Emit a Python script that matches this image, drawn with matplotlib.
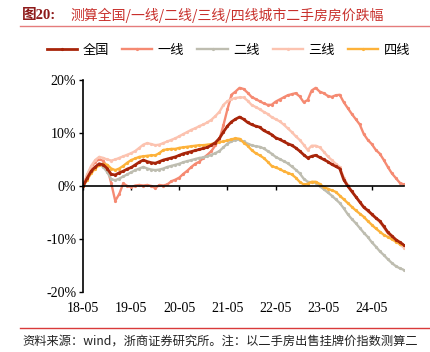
import matplotlib.pyplot as plt
import numpy as np
from matplotlib.transforms import blended_transform_factory

plt.rcParams['font.family'] = ['Noto Sans CJK SC', 'DejaVu Sans']

# monthly, 2018-05 .. 2025-01
months = np.arange(81)
tick_pos = [0, 12, 24, 36, 48, 60, 72]
tick_labels = ['18-05', '19-05', '20-05', '21-05', '22-05', '23-05', '24-05']

national = [0, 1.5, 2.8, 3.6, 4.2, 4.0, 3.3, 2.2, 2.1, 2.5, 2.8, 3.2, 3.5, 4.0, 4.5, 4.9,
            4.6, 4.4, 4.3, 4.6, 4.9, 5.1, 5.3, 5.5, 5.8, 6.1, 6.3, 6.5, 6.7, 6.9, 7.1, 7.3,
            7.7, 8.2, 9.0, 10.2, 11.3, 12.1, 12.6, 13.0, 12.6, 12.0, 11.6, 11.3, 11.1, 10.5,
            10.1, 9.7, 9.1, 8.8, 8.4, 8.0, 7.7, 7.2, 6.6, 5.9, 5.3, 5.6, 5.8, 5.4, 5.0, 4.6,
            4.1, 3.7, 3.3, 1.2, 0.0, -1.0, -2.0, -3.0, -4.0, -4.6, -5.3, -6.0, -6.6, -7.6,
            -8.7, -9.4, -10.1, -10.6, -11.1]
tier1 = [0, 2.0, 3.5, 4.6, 5.0, 4.8, 3.5, 0.5, -2.8, -1.5, 0.5, 0.0, -0.2, 0.1, 0.2, 0.1,
         0.2, 0.0, -0.4, 0.2, 0.1, 0.3, 0.9, 1.2, 1.6, 2.3, 2.9, 3.6, 4.2, 4.6, 5.3, 5.9,
         6.6, 7.7, 8.8, 11.5, 14.5, 17.2, 17.8, 18.5, 18.3, 17.6, 16.8, 16.4, 16.0, 15.6,
         15.3, 15.3, 15.9, 16.3, 16.7, 17.1, 17.3, 17.5, 16.9, 15.8, 16.2, 18.0, 18.5, 17.8,
         17.5, 17.0, 16.8, 17.1, 17.2, 15.8, 14.7, 13.6, 12.6, 11.6, 9.8, 8.7, 7.9, 6.8,
         6.1, 4.9, 3.6, 2.4, 1.5, 0.6, 0.3]
tier2 = [0, 1.3, 2.6, 3.5, 4.0, 3.6, 2.6, 1.3, 1.1, 1.4, 1.8, 2.2, 2.6, 3.0, 3.3, 3.6,
         3.3, 3.1, 3.0, 3.1, 3.3, 3.6, 3.8, 4.0, 4.2, 4.5, 4.7, 4.9, 5.1, 5.3, 5.4, 5.6,
         5.9, 6.2, 6.6, 7.3, 8.0, 8.4, 8.7, 8.7, 8.4, 8.0, 7.7, 7.5, 7.4, 7.1, 6.6, 6.1,
         5.5, 5.1, 4.7, 4.3, 3.7, 3.1, 2.4, 1.4, 0.8, 0.7, 0.6, 0.0, -0.6, -1.2, -1.8,
         -2.5, -3.2, -4.2, -5.3, -6.2, -7.0, -7.9, -8.8, -9.6, -10.6, -11.4, -12.3, -13.0,
         -13.8, -14.5, -15.1, -15.5, -15.8]
tier3 = [0, 2.2, 3.8, 4.9, 5.5, 5.3, 5.0, 4.8, 5.0, 5.3, 5.6, 5.9, 6.2, 6.6, 7.2, 7.8,
         8.1, 7.9, 7.7, 7.8, 8.1, 8.4, 8.7, 9.0, 9.4, 9.8, 10.2, 10.6, 10.9, 11.3, 11.6,
         12.0, 12.5, 13.2, 14.0, 15.3, 16.0, 16.4, 16.6, 16.7, 16.7, 16.1, 15.3, 14.9,
         14.5, 14.0, 13.6, 13.0, 12.6, 12.2, 11.6, 10.9, 10.2, 9.4, 8.7, 7.8, 6.8, 7.6,
         7.6, 7.3, 6.5, 5.6, 4.9, 4.2, 3.6, 1.6, 0.2, -1.0, -2.0, -3.0, -4.0, -4.7, -5.4,
         -6.1, -6.8, -7.8, -8.9, -9.7, -10.4, -11.0, -11.6]
tier4 = [0, 1.2, 2.4, 3.3, 3.9, 4.2, 4.0, 3.3, 3.0, 3.3, 3.8, 4.4, 4.9, 5.2, 5.5, 5.6,
         5.7, 5.8, 5.8, 6.2, 6.8, 6.9, 7.0, 7.0, 7.2, 7.3, 7.4, 7.5, 7.6, 7.7, 7.7, 7.8,
         7.9, 8.1, 8.3, 8.4, 8.6, 8.8, 9.0, 8.9, 8.2, 7.6, 6.8, 6.2, 5.8, 5.3, 4.6, 3.8,
         3.5, 3.2, 2.8, 2.5, 2.2, 1.6, 0.8, 0.3, 0.4, 0.8, 0.8, 0.4, -0.2, -0.5, -0.8,
         -1.1, -1.8, -2.5, -3.2, -3.9, -4.6, -5.2, -5.8, -6.6, -7.3, -8.0, -8.6, -9.2,
         -9.6, -10.0, -10.5, -10.9, -11.2]

series = [
    ('全国', national, '#A8250A'),
    ('一线', tier1, '#F58A72'),
    ('二线', tier2, '#BEBDB0'),
    ('三线', tier3, '#FCC3B0'),
    ('四线', tier4, '#FDB23A'),
]
draw_order = [1, 3, 2, 4, 0]

fig = plt.figure(figsize=(4.31, 3.52), dpi=100)
ax = fig.add_axes([0.193, 0.170, 0.744, 0.603])

lines = {}
for i in draw_order:
    name, vals, col = series[i]
    lw = 2.0 if i == 0 else 1.7
    ln, = ax.plot(months, vals, color=col, lw=lw, marker='o', ms=2.3,
                  markeredgewidth=0, label=name)
    lines[i] = ln

ax.set_xlim(0, 80)
ax.set_ylim(-20, 20)
ax.set_yticks([-20, -10, 0, 10, 20])
ax.set_yticklabels(['-20%', '-10%', '0%', '10%', '20%'],
                   family='Liberation Serif', fontsize=10)
ax.spines['top'].set_visible(False)
ax.spines['right'].set_visible(False)
ax.spines['bottom'].set_position(('data', 0))
ax.spines['left'].set_linewidth(1.2)
ax.spines['bottom'].set_linewidth(1.2)
ax.tick_params(axis='y', direction='out', length=3, width=1.0, pad=2)
ax.set_xticks(tick_pos)
ax.set_xticklabels([])
ax.tick_params(axis='x', direction='out', length=3, width=1.0)

trans = blended_transform_factory(ax.transData, ax.transAxes)
for p, lab in zip(tick_pos, tick_labels):
    ax.text(p, -0.045, lab, transform=trans, ha='center', va='top',
            family='Liberation Serif', fontsize=10)

handles = [lines[i] for i in range(5)]
fig.legend(handles, [s[0] for s in series], loc='center', bbox_to_anchor=(0.53, 0.857),
           ncol=5, frameon=False, fontsize=9.5, handlelength=2.3, columnspacing=1.0,
           handletextpad=0.4)

# header and footer
fig.text(0.051, 0.957, '图20:', fontsize=10.5, color='#8E1B1B', fontweight='bold',
         va='center', family=['Liberation Serif', 'Noto Sans CJK SC'])
fig.text(0.163, 0.957, '测算全国/一线/二线/三线/四线城市二手房房价跌幅', fontsize=10.0,
         color='#C8302C', va='center')
fig.add_artist(plt.Line2D([0.046, 1.0], [0.925, 0.925], color='#E57C7C', lw=1.0))
fig.add_artist(plt.Line2D([0.046, 1.0], [0.068, 0.068], color='#D93A3A', lw=1.0))
fig.text(0.051, 0.032, '资料来源：wind，浙商证券研究所。注：以二手房出售挂牌价指数测算二',
         fontsize=8.8, color='#222222', va='center')

fig.savefig('out.png', dpi=100)
